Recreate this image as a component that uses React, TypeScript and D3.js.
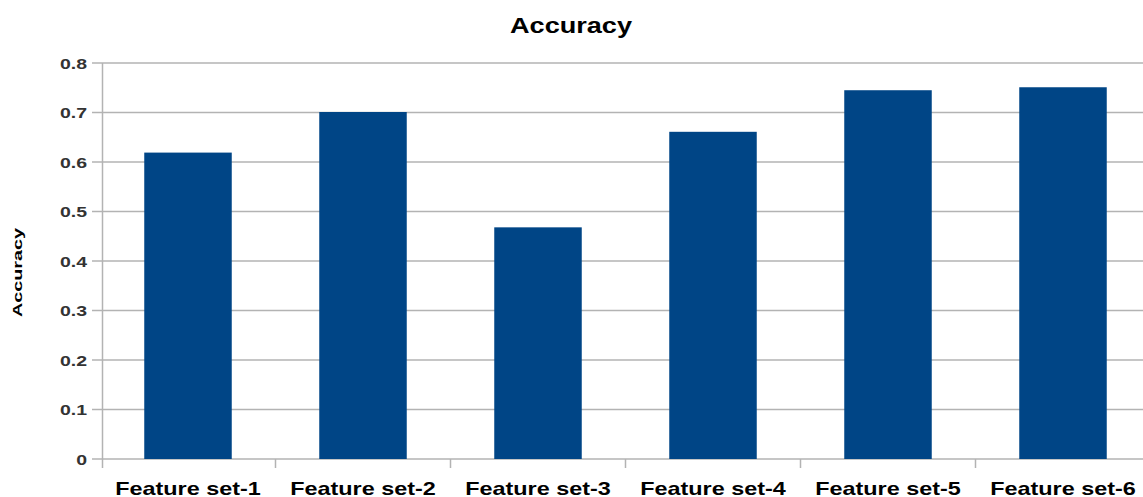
import React from "react";
import * as d3 from "d3";

const categories = ["Feature set-1", "Feature set-2", "Feature set-3", "Feature set-4", "Feature set-5", "Feature set-6"];
const accuracy = [0.619, 0.701, 0.468, 0.661, 0.745, 0.751];
const yTicks = [0, 0.1, 0.2, 0.3, 0.4, 0.5, 0.6, 0.7, 0.8];
const title = "Accuracy";
const yTitle = "Accuracy";

const W = 1143;
const H = 497;
const left = 100.5;
const step = 175;
const axisX = 102.5;
const y0 = 459;
const yTop = 63;
const FONT = "'Liberation Sans', Arial, sans-serif";

export default function App() {
  const x = d3
    .scaleBand<string>()
    .domain(categories)
    .range([left, left + step * categories.length])
    .paddingInner(0.5)
    .paddingOuter(0.25);
  const xb = d3.scaleBand<string>().domain(categories).range([left, left + step * categories.length]);
  const y = d3.scaleLinear().domain([0, 0.8]).range([y0, yTop]);
  const gridColor = "#b3b3b3";

  return (
    <svg width={W} height={H} style={{ position: "absolute", left: 0, top: 0, background: "#fff" }}>
      {yTicks.map((t) => (
        <line key={"g" + t} x1={92} x2={W} y1={y(t)} y2={y(t)} stroke={gridColor} strokeWidth={1.5} />
      ))}
      <line x1={axisX} x2={axisX} y1={yTop} y2={468} stroke={gridColor} strokeWidth={1.5} />
      {categories.slice(1).map((c) => (
        <line key={"xt" + c} x1={xb(c) as number} x2={xb(c) as number} y1={y0} y2={468} stroke={gridColor} strokeWidth={1.5} />
      ))}
      {categories.map((c, i) => (
        <rect
          key={"b" + c}
          x={x(c)}
          y={y(accuracy[i])}
          width={x.bandwidth()}
          height={y0 - y(accuracy[i])}
          fill="#004586"
        />
      ))}
      {yTicks.map((t) => (
        <text
          key={"yl" + t}
          transform={`translate(87,${y(t) + 5.5}) scale(1.3,1)`}
          textAnchor="end"
          fontFamily={FONT}
          fontWeight="bold"
          fontSize={15}
          fill="#333"
        >
          {d3.format("")(t)}
        </text>
      ))}
      {categories.map((c) => (
        <text
          key={"xl" + c}
          transform={`translate(${(xb(c) as number) + xb.bandwidth() / 2},495) scale(1.3,1)`}
          textAnchor="middle"
          fontFamily={FONT}
          fontWeight="bold"
          fontSize={18}
          fill="#000"
        >
          {c}
        </text>
      ))}
      <text x={510} y={33} fontFamily={FONT} fontWeight="bold" fontSize={22} textLength={122} lengthAdjust="spacingAndGlyphs" fill="#000">
        {title}
      </text>
      <text
        transform={`translate(22,317) rotate(-90)`}
        fontFamily={FONT}
        fontWeight="bold"
        fontSize={12}
        textLength={89}
        lengthAdjust="spacingAndGlyphs"
        fill="#000"
      >
        {yTitle}
      </text>
    </svg>
  );
}
